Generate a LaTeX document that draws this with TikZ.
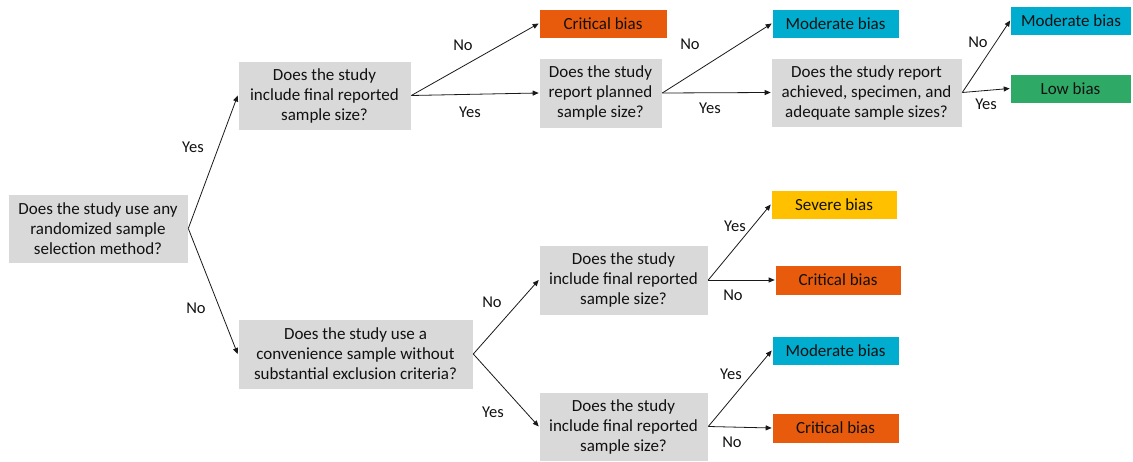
\documentclass[tikz,border=0pt]{standalone}
\usepackage{fontspec}
\setmainfont{Carlito}
\usetikzlibrary{arrows.meta}
\definecolor{boxgray}{HTML}{D9D9D9}
\definecolor{critorange}{HTML}{E85B0C}
\definecolor{modcyan}{HTML}{00ADCF}
\definecolor{sevyellow}{HTML}{FFC000}
\definecolor{lowgreen}{HTML}{2EAA66}
\definecolor{txt}{HTML}{111111}
\tikzset{
  qbox/.style={fill=boxgray, draw=white, line width=0.6pt, inner sep=0pt, align=center, text=txt,
    font=\fontsize{17}{20}\selectfont},
  rbox/.style={draw=white, line width=0.6pt, inner sep=0pt, align=center, text=txt,
    font=\fontsize{17}{20}\selectfont},
  lbl/.style={inner sep=0pt, text=txt, font=\fontsize{16.5}{19}\selectfont},
  arr/.style={draw=black!90, line width=0.8pt, -{Triangle[length=6pt,width=5pt]}}
}
\begin{document}
\begin{tikzpicture}[x=1pt,y=-1pt]
\useasboundingbox (0,0) rectangle (1133,462);
% question boxes
\node[qbox, minimum width=180pt, minimum height=69pt] (root) at (98,228.5)
  {Does the study use any\\randomized sample\\selection method?};
\node[qbox, minimum width=173pt, minimum height=69pt] (q1) at (324.5,95.5)
  {Does the study\\include final reported\\sample size?};
\node[qbox, minimum width=123pt, minimum height=70pt] (q2) at (600.5,93)
  {Does the study\\report planned\\sample size?};
\node[qbox, minimum width=191pt, minimum height=69pt] (q3) at (866.5,92.5)
  {Does the study report\\achieved, specimen, and\\adequate sample sizes?};
\node[qbox, minimum width=235pt, minimum height=70pt] (q4) at (355.5,354)
  {Does the study use a\\convenience sample without\\substantial exclusion criteria?};
\node[qbox, minimum width=169pt, minimum height=70pt] (q5) at (623.5,280)
  {Does the study\\include final reported\\sample size?};
\node[qbox, minimum width=169pt, minimum height=69pt] (q6) at (623.5,426.5)
  {Does the study\\include final reported\\sample size?};
% result boxes
\node[rbox, fill=critorange, minimum width=128pt, minimum height=29pt] (crit1) at (603,23.5) {Critical bias};
\node[rbox, fill=modcyan, minimum width=127pt, minimum height=29pt] (mod1) at (835.5,23.5) {Moderate bias};
\node[rbox, fill=modcyan, minimum width=121pt, minimum height=29pt] (mod2) at (1071,20.5) {Moderate bias};
\node[rbox, fill=lowgreen, minimum width=121pt, minimum height=29pt] (low) at (1070.5,88.5) {Low bias};
\node[rbox, fill=sevyellow, minimum width=126pt, minimum height=29pt] (sev) at (834,204.5) {Severe bias};
\node[rbox, fill=critorange, minimum width=126pt, minimum height=30pt] (crit2) at (838,280) {Critical bias};
\node[rbox, fill=modcyan, minimum width=127pt, minimum height=29pt] (mod3) at (835.5,350.5) {Moderate bias};
\node[rbox, fill=critorange, minimum width=127pt, minimum height=30pt] (crit3) at (835.5,428) {Critical bias};
% connectors
\draw[arr] (root.east) -- (q1.west);
\draw[arr] (root.east) -- (q4.west);
\draw[arr] (q1.east) -- (crit1.west);
\draw[arr] (q1.east) -- (q2.west);
\draw[arr] (q2.east) -- (mod1.west);
\draw[arr] (q2.east) -- (q3.west);
\draw[arr] (q3.east) -- (mod2.west);
\draw[arr] (q3.east) -- (low.west);
\draw[arr] (q4.east) -- (q5.west);
\draw[arr] (q4.east) -- (q6.west);
\draw[arr] (q5.east) -- (sev.west);
\draw[arr] (q5.east) -- (crit2.west);
\draw[arr] (q6.east) -- (mod3.west);
\draw[arr] (q6.east) -- (crit3.west);
% labels
\node[lbl] (l1) at (193,147) {Yes};
\node[lbl] (l2) at (196,308) {No};
\node[lbl] (l3) at (463,45) {No};
\node[lbl] (l4) at (470,112) {Yes};
\node[lbl] (l5) at (690,44) {No};
\node[lbl] (l6) at (710,108) {Yes};
\node[lbl] (l7) at (978,42) {No};
\node[lbl] (l8) at (986,104) {Yes};
\node[lbl] (l9) at (492,302) {No};
\node[lbl] (l10) at (493,412) {Yes};
\node[lbl] (l11) at (735,226) {Yes};
\node[lbl] (l12) at (733,295) {No};
\node[lbl] (l13) at (731,374) {Yes};
\node[lbl] (l14) at (732,442) {No};
\end{tikzpicture}
\end{document}
